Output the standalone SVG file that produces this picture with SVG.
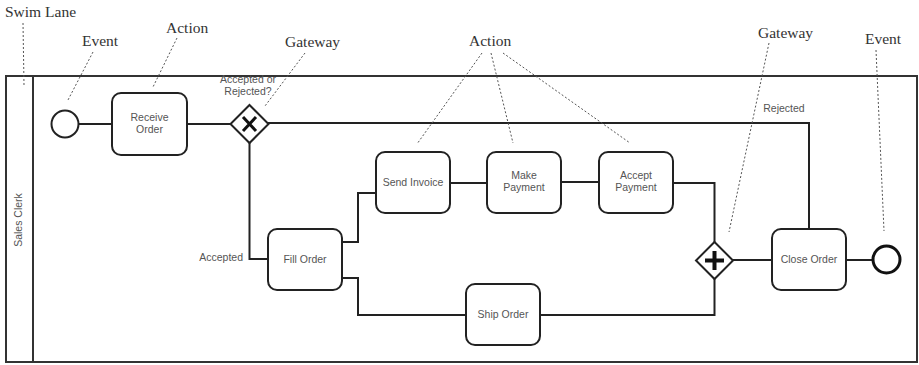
<svg xmlns="http://www.w3.org/2000/svg" width="919" height="365" viewBox="0 0 919 365">
  <style>
    .pool { fill: #fff; stroke: #333; stroke-width: 2; }
    .task rect { fill: #fff; stroke: #222; stroke-width: 2; }
    .task text, .lbl { font-family: "Liberation Sans", Arial, sans-serif; font-size: 10.5px; fill: #555; text-anchor: middle; }
    .flow { fill: none; stroke: #222; stroke-width: 2; }
    .gw { fill: #fff; stroke: #222; stroke-width: 2; }
    .note { font-family: "Liberation Serif", "Times New Roman", serif; font-size: 15.5px; fill: #333; }
    .lead { fill: none; stroke: #555; stroke-width: 1; stroke-dasharray: 2 2; }
  </style>

  <!-- pool and lane header -->
  <g id="pool">
    <rect class="pool" x="6" y="76" width="911" height="286"/>
    <line x1="33" y1="76" x2="33" y2="362" stroke="#333" stroke-width="2"/>
    <text class="lbl" transform="translate(22,220) rotate(-90)">Sales Clerk</text>
  </g>

  <!-- sequence flows -->
  <g id="connectors">
    <path class="flow" d="M78.5,124 H112"/>
    <path class="flow" d="M187,124 H231"/>
    <path class="flow" d="M268,123 H809 V229"/>
    <path class="flow" d="M249.5,143 V259 H268"/>
    <path class="flow" d="M342,242 H358 V193 H376"/>
    <path class="flow" d="M342,278 H358 V315 H466"/>
    <path class="flow" d="M450,183 H487"/>
    <path class="flow" d="M561,182 H599"/>
    <path class="flow" d="M673,183 H714.5 V242"/>
    <path class="flow" d="M540,315 H714.5 V279"/>
    <path class="flow" d="M733,260 H772"/>
    <path class="flow" d="M846,260 H872"/>
    <text class="lbl" x="784" y="112">Rejected</text>
    <text class="lbl" x="243" y="261" style="text-anchor:end">Accepted</text>
  </g>

  <g id="start-event">
    <circle cx="65" cy="124" r="13.5" fill="#fff" stroke="#222" stroke-width="2"/>
  </g>

  <g id="receive-order" class="task">
    <rect x="112" y="93" width="75" height="62" rx="9"/>
    <text x="149.5" y="121">Receive</text>
    <text x="149.5" y="133">Order</text>
  </g>

  <g id="decision-gateway">
    <polygon class="gw" points="249.5,105 268.5,124 249.5,143 230.5,124"/>
    <path d="M243,117 L256,131 M256,117 L243,131" stroke="#111" stroke-width="3"/>
    <text class="lbl" x="248" y="83">Accepted or</text>
    <text class="lbl" x="248" y="95">Rejected?</text>
  </g>

  <g id="fill-order" class="task">
    <rect x="268" y="229" width="74" height="61" rx="9"/>
    <text x="305" y="263">Fill Order</text>
  </g>

  <g id="send-invoice" class="task">
    <rect x="376" y="152" width="74" height="61" rx="9"/>
    <text x="413" y="186">Send Invoice</text>
  </g>

  <g id="make-payment" class="task">
    <rect x="487" y="152" width="74" height="61" rx="9"/>
    <text x="524" y="179">Make</text>
    <text x="524" y="191">Payment</text>
  </g>

  <g id="accept-payment" class="task">
    <rect x="599" y="152" width="74" height="61" rx="9"/>
    <text x="636" y="179">Accept</text>
    <text x="636" y="191">Payment</text>
  </g>

  <g id="ship-order" class="task">
    <rect x="466" y="284" width="74" height="61" rx="9"/>
    <text x="503" y="318">Ship Order</text>
  </g>

  <g id="join-gateway">
    <polygon class="gw" points="714.5,242 733,260.5 714.5,279 696,260.5"/>
    <path d="M705,260.5 H724 M714.5,251 V270" stroke="#111" stroke-width="4"/>
  </g>

  <g id="close-order" class="task">
    <rect x="772" y="229" width="74" height="61" rx="9"/>
    <text x="809" y="263">Close Order</text>
  </g>

  <g id="end-event">
    <circle cx="886.5" cy="259.5" r="13.5" fill="#fff" stroke="#111" stroke-width="3"/>
  </g>

  <!-- annotations -->
  <g id="annotations">
    <text class="note" x="5" y="17">Swim Lane</text>
    <line class="lead" x1="23" y1="23" x2="24" y2="85"/>
    <text class="note" x="82" y="46">Event</text>
    <line class="lead" x1="93" y1="52" x2="68" y2="100"/>
    <text class="note" x="166" y="33">Action</text>
    <line class="lead" x1="177" y1="38" x2="153" y2="87"/>
    <text class="note" x="285" y="47">Gateway</text>
    <line class="lead" x1="305" y1="53" x2="265" y2="106"/>
    <text class="note" x="469" y="46">Action</text>
    <line class="lead" x1="482" y1="53" x2="417" y2="144"/>
    <line class="lead" x1="491" y1="53" x2="513" y2="143"/>
    <line class="lead" x1="503" y1="53" x2="630" y2="143"/>
    <text class="note" x="758" y="38">Gateway</text>
    <line class="lead" x1="769" y1="43" x2="729" y2="232"/>
    <text class="note" x="865" y="44">Event</text>
    <line class="lead" x1="876" y1="50" x2="884" y2="231"/>
  </g>
</svg>
